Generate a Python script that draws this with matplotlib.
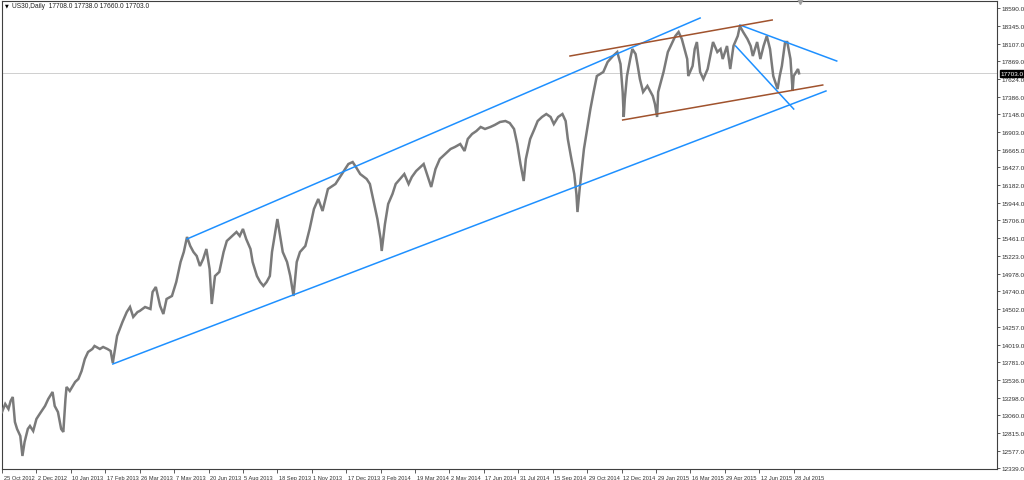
import matplotlib
matplotlib.use("Agg")
import matplotlib.pyplot as plt
import matplotlib.transforms as mtransforms

# ---------------- data ----------------
bar_idx = [0, 3, 6, 8, 10, 12, 14, 17, 19, 21, 24, 26, 29, 32, 35, 40, 43, 47, 49, 52,
           55, 57, 59, 60, 63, 68, 71, 74, 77, 80, 84, 86, 91, 94, 98, 101, 103, 107, 112, 116,
           119, 122, 126, 128, 133, 138, 140, 143, 147, 150, 153, 158, 162, 166, 169, 172, 175, 178, 181, 184,
           187, 190, 193, 195, 198, 202, 206, 209, 214, 218, 221, 224, 227, 231, 233, 237, 240, 243, 246, 249,
           251, 254, 256, 259, 261, 265, 268, 271, 274, 277, 282, 286, 290, 294, 298, 303, 310, 316, 322, 326,
           329, 333, 339, 342, 346, 349, 352, 353, 356, 359, 363, 366, 370, 374, 378, 381, 385, 389, 392, 396,
           399, 403, 407, 412, 417, 421, 426, 430, 433, 437, 441, 445, 449, 454, 458, 463, 468, 472, 476, 479,
           482, 485, 487, 491, 495, 498, 502, 506, 510, 513, 517, 521, 524, 526, 529, 532, 534, 535, 537, 539,
           541, 544, 547, 550, 553, 559, 563, 568, 572, 575, 577, 578, 579, 581, 584, 586, 589, 591, 593, 596,
           600, 605, 607, 609, 610, 615, 619, 626, 629, 632, 637, 638, 642, 644, 646, 649, 652, 656, 661, 665,
           668, 670, 674, 677, 680, 684, 686, 689, 693, 696, 698, 702, 705, 708, 711, 714, 717, 721, 723, 725,
           728, 730, 733, 735, 736, 740, 741]
close = [13103, 13212, 13144, 13253, 13307, 12968, 12873, 12778, 12506, 12696, 12873, 12913, 12845, 13008, 13076, 13185, 13280, 13375, 13185, 13103,
         12873, 12832, 13280, 13443, 13389, 13511, 13552, 13660, 13823, 13918, 13959, 14000, 13959, 13986, 13959, 13932, 13769, 14136, 14326, 14461,
         14529, 14394, 14461, 14475, 14529, 14502, 14733, 14801, 14543, 14434, 14638, 14679, 14869, 15140, 15276, 15480, 15358, 15276, 15222, 15086,
         15181, 15317, 15045, 14570, 14950, 15005, 15276, 15426, 15494, 15548, 15494, 15589, 15453, 15317, 15140, 14950, 14869, 14815, 14869, 14950,
         15276, 15548, 15724, 15453, 15276, 15140, 14950, 14679, 15140, 15276, 15358, 15589, 15860, 15996, 15833, 16132, 16200, 16335, 16471, 16498,
         16431, 16335, 16268, 16200, 15928, 15724, 15453, 15290, 15656, 15928, 16064, 16200, 16268, 16335, 16200, 16295, 16376, 16431, 16471, 16295,
         16159, 16403, 16539, 16607, 16675, 16702, 16743, 16648, 16811, 16879, 16919, 16974, 16947, 16974, 17001, 17042, 17055, 17028, 16947, 16743,
         16471, 16240, 16539, 16811, 16947, 17055, 17110, 17150, 17110, 17014, 17110, 17150, 17055, 16811, 16566, 16335, 16064, 15819, 16132, 16403,
         16675, 16947, 17218, 17449, 17666, 17721, 17856, 17938, 17992, 17829, 17449, 17110, 17354, 17666, 17897, 18033, 17965, 17802, 17626, 17449,
         17531, 17395, 17286, 17110, 17449, 17721, 17992, 18210, 18264, 18169, 17897, 17666, 17802, 18033, 18128, 17721, 17626, 17761, 18128, 17992,
         18033, 17897, 18074, 17761, 18074, 18210, 18345, 18264, 18169, 18074, 17938, 18128, 17897, 18074, 18210, 18033, 17666, 17490, 17666, 17802,
         18128, 18128, 17897, 17463, 17666, 17761, 17703]

x_labels = ["25 Oct 2012", "2 Dec 2012", "10 Jan 2013", "17 Feb 2013", "26 Mar 2013", "7 May 2013",
            "20 Jun 2013", "5 Aug 2013", "18 Sep 2013", "1 Nov 2013", "17 Dec 2013", "3 Feb 2014",
            "19 Mar 2014", "2 May 2014", "17 Jun 2014", "31 Jul 2014", "15 Sep 2014", "29 Oct 2014",
            "12 Dec 2014", "29 Jan 2015", "16 Mar 2015", "29 Apr 2015", "12 Jun 2015", "28 Jul 2015"]
bars_per_label = 32

y_ticks = [18590, 18345, 18107, 17869, 17624, 17386, 17148, 16903, 16665, 16427, 16182, 15944,
           15706, 15461, 15223, 14978, 14740, 14502, 14257, 14019, 13781, 13536, 13298, 13060,
           12815, 12577, 12339]

last_price = 17703
header = "US30,Daily  17708.0 17738.0 17660.0 17703.0"

# trend lines: (bar, price) end points
blue_lines = [((172, 15453), (649, 18454)),   # upper channel
              ((103, 13755), (766, 17463)),   # lower channel
              ((686, 18359), (776, 17870)),   # descending from top
              ((682, 18074), (736, 17218))]   # steep descending
brown_lines = [((528, 17938), (716, 18427)),
               ((577, 17069), (763, 17544))]

FONT = "Liberation Sans"

# ---------------- figure ----------------
W, H = 1024, 481
fig = plt.figure(figsize=(W / 100, H / 100), dpi=100)
fig.patch.set_facecolor("white")
ax = fig.add_axes([2 / W, 1 - 470 / H, (997 - 2) / W, (470 - 2) / H])
ax.set_facecolor("white")

ax.set_xlim(0, 925)
ax.set_ylim(12329, 18685)

# current price line
ax.axhline(last_price, color="#cfcfcf", lw=0.7, zorder=1)

# price series
ax.plot(bar_idx, close, color="#7a7a7a", lw=1.8, solid_joinstyle="miter", zorder=3)

for (p0, p1) in blue_lines:
    ax.plot([p0[0], p1[0]], [p0[1], p1[1]], color="#1E90FF", lw=1.1, zorder=4)
for (p0, p1) in brown_lines:
    ax.plot([p0[0], p1[0]], [p0[1], p1[1]], color="#A0522D", lw=1.1, zorder=4)

# axes styling
for s in ax.spines.values():
    s.set_color("#404040")
    s.set_linewidth(0.8)

ax.yaxis.tick_right()
ax.set_yticks(y_ticks)
ax.set_yticklabels([f"{v:.1f}" for v in y_ticks], fontsize=4.6, color="#202020", family=FONT)
ax.tick_params(axis="y", direction="out", length=2, width=0.6, pad=1, colors="#404040",
               labelcolor="#303030")

xt = [i * bars_per_label for i in range(len(x_labels))]
ax.set_xticks(xt)
ax.set_xticklabels(x_labels, fontsize=4.1, color="#202020", ha="left", family=FONT)
ax.tick_params(axis="x", direction="out", length=3, width=0.6, pad=1.2, colors="#404040",
               labelcolor="#303030")
for lbl in ax.get_xticklabels():
    lbl.set_transform(lbl.get_transform() + mtransforms.ScaledTranslation(1.5 / 100, 0, fig.dpi_scale_trans))

# current price label box
trans = mtransforms.blended_transform_factory(ax.transAxes, ax.transData)
ax.text(1.0035, last_price, f"{last_price:.1f}", transform=trans, fontsize=4.6, color="white",
        va="center", ha="left", family=FONT,
        bbox=dict(boxstyle="square,pad=0.15", fc="black", ec="black"))

# header text
fig.text(5 / W, 1 - 6 / H, "\u25BC", fontsize=3.5, color="black", va="center", ha="left",
         family="DejaVu Sans")
fig.text(12 / W, 1 - 6 / H, header, fontsize=4.8, color="#202020", va="center", ha="left",
         family=FONT)

# chart shift marker
ax.plot([742], [18685], marker="v", color="#a0a0a0", markersize=4, clip_on=False, zorder=5)

fig.savefig("out.png", dpi=100, facecolor="white")
